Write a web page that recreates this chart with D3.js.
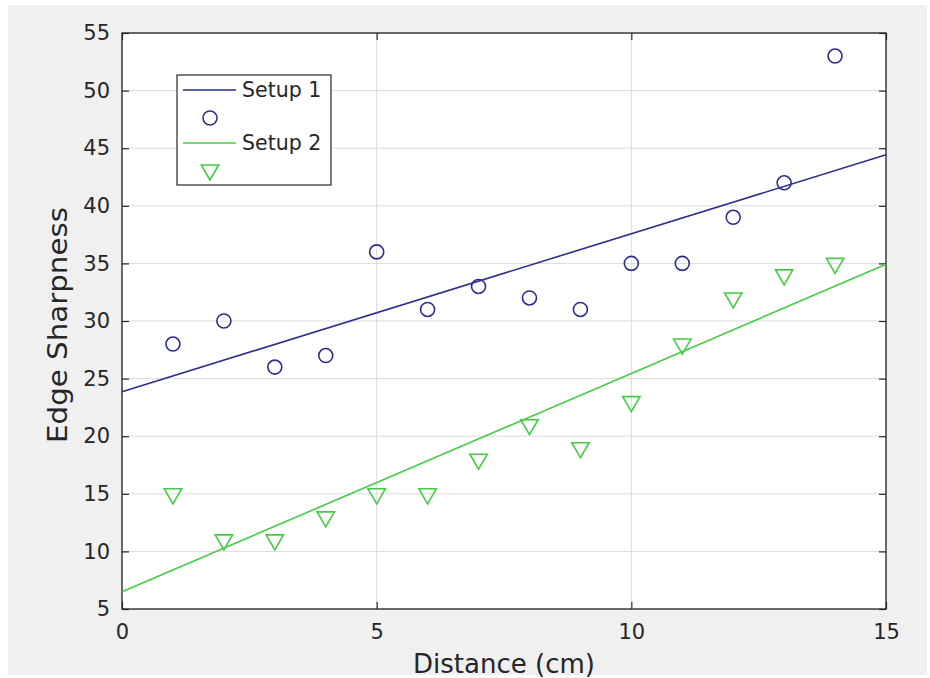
<!DOCTYPE html>
<html><head><meta charset="utf-8">
<script src="https://cdn.jsdelivr.net/npm/d3@7"></script>
<style>html,body{margin:0;padding:0;background:#fff;}svg{display:block;}</style>
</head><body>
<script>
const distance = [1,2,3,4,5,6,7,8,9,10,11,12,13,14];
const setup1 = [28,30,26,27,36,31,33,32,31,35,35,39,42,53];
const setup2 = [15,11,11,13,15,15,18,21,19,23,28,32,34,35];
const fitX = [0, 15];
const fit1 = [23.86, 44.43];
const fit2 = [6.5, 34.92];
const xTicks = [0,5,10,15];
const yTicks = [5,10,15,20,25,30,35,40,45,50,55];
const seriesNames = ["Setup 1", "Setup 2"];

const W = 930, H = 678;
const m = {left:122, right:886, top:33, bottom:609};
const c1 = "#2d2d8c", c2 = "#44cc44";
const svg = d3.select("body").append("svg").attr("width", W).attr("height", H)
  .style("font-family", "'DejaVu Sans', sans-serif");

svg.append("rect").attr("x",8).attr("y",5).attr("width",919).attr("height",670).attr("fill","#f0f0f0");
svg.append("rect").attr("x",m.left).attr("y",m.top).attr("width",m.right-m.left).attr("height",m.bottom-m.top).attr("fill","#fff");

const x = d3.scaleLinear().domain([0,15]).range([m.left, m.right]);
const y = d3.scaleLinear().domain([5,55]).range([m.bottom, m.top]);

// grid
svg.append("g").selectAll("line").data(xTicks).join("line")
  .attr("x1", d=>x(d)).attr("x2", d=>x(d)).attr("y1", m.top).attr("y2", m.bottom)
  .attr("stroke", "#dcdcdc").attr("stroke-width", 1);
svg.append("g").selectAll("line").data(yTicks).join("line")
  .attr("x1", m.left).attr("x2", m.right).attr("y1", d=>y(d)).attr("y2", d=>y(d))
  .attr("stroke", "#dcdcdc").attr("stroke-width", 1);

// axes
const tl = 7;
const axB = svg.append("g").attr("transform", `translate(0,${m.bottom})`)
  .call(d3.axisBottom(x).tickValues(xTicks).tickSizeInner(-tl).tickSizeOuter(0).tickPadding(11));
const axL = svg.append("g").attr("transform", `translate(${m.left},0)`)
  .call(d3.axisLeft(y).tickValues(yTicks).tickSizeInner(-tl).tickSizeOuter(0).tickPadding(12));
const axT = svg.append("g").attr("transform", `translate(0,${m.top})`)
  .call(d3.axisTop(x).tickValues(xTicks).tickSizeInner(-tl).tickSizeOuter(0).tickFormat(""));
const axR = svg.append("g").attr("transform", `translate(${m.right},0)`)
  .call(d3.axisRight(y).tickValues(yTicks).tickSizeInner(-tl).tickSizeOuter(0).tickFormat(""));
[axB, axL, axT, axR].forEach(a => {
  a.select(".domain").remove();
  a.selectAll(".tick line").attr("stroke", "#262626").attr("stroke-width", 1.2);
  a.selectAll("text").attr("fill", "#262626").style("font-size", "21px").style("font-family", "'DejaVu Sans', sans-serif");
});
axB.selectAll("text").attr("dy", "0.9em");

svg.append("rect").attr("x",m.left).attr("y",m.top).attr("width",m.right-m.left).attr("height",m.bottom-m.top)
  .attr("fill","none").attr("stroke","#262626").attr("stroke-width",1.3);

// fit lines
const line = d3.line().x(d=>x(d[0])).y(d=>y(d[1]));
svg.append("path").datum(fitX.map((v,i)=>[v, fit1[i]])).attr("d", line)
  .attr("stroke", c1).attr("stroke-width", 1.6).attr("fill","none");
svg.append("path").datum(fitX.map((v,i)=>[v, fit2[i]])).attr("d", line)
  .attr("stroke", c2).attr("stroke-width", 1.6).attr("fill","none");

// markers
const tri = d3.symbol().type(d3.symbolTriangle).size(130);
svg.append("g").selectAll("circle").data(distance).join("circle")
  .attr("cx", d=>x(d)).attr("cy", (d,i)=>y(setup1[i])).attr("r", 7)
  .attr("fill","none").attr("stroke", c1).attr("stroke-width", 1.6);
svg.append("g").selectAll("path").data(distance).join("path")
  .attr("d", tri).attr("transform", (d,i)=>`translate(${x(d)},${y(setup2[i])}) rotate(180)`)
  .attr("fill","none").attr("stroke", c2).attr("stroke-width", 1.6);

// axis labels
svg.append("text").attr("x", (m.left+m.right)/2).attr("y", 673).attr("text-anchor","middle")
  .attr("fill","#262626").style("font-size","26px").text("Distance (cm)");
svg.append("text").attr("transform", `translate(67,325) rotate(-90)`)
  .attr("text-anchor","middle").attr("fill","#262626").style("font-size","26px")
  .attr("textLength", 236).attr("lengthAdjust", "spacingAndGlyphs").text("Edge Sharpness");

// legend
const lg = svg.append("g");
lg.append("rect").attr("x",177).attr("y",75).attr("width",154).attr("height",110)
  .attr("fill","#fff").attr("stroke","#262626").attr("stroke-width",1.2);
const rows = [{c:c1, ly:90, my:118, t:seriesNames[0], sym:"circle"}, {c:c2, ly:143, my:170, t:seriesNames[1], sym:"tri"}];
rows.forEach(r => {
  lg.append("line").attr("x1",183).attr("x2",236).attr("y1",r.ly).attr("y2",r.ly).attr("stroke",r.c).attr("stroke-width",1.6);
  lg.append("text").attr("x",242).attr("y",r.ly).attr("dy","0.35em").attr("fill","#262626").style("font-size","20.5px").text(r.t);
  if (r.sym === "circle") {
    lg.append("circle").attr("cx",210).attr("cy",r.my).attr("r",7).attr("fill","none").attr("stroke",r.c).attr("stroke-width",1.6);
  } else {
    lg.append("path").attr("d", tri).attr("transform", `translate(210,${r.my}) rotate(180)`)
      .attr("fill","none").attr("stroke",r.c).attr("stroke-width",1.6);
  }
});
</script>
</body></html>
